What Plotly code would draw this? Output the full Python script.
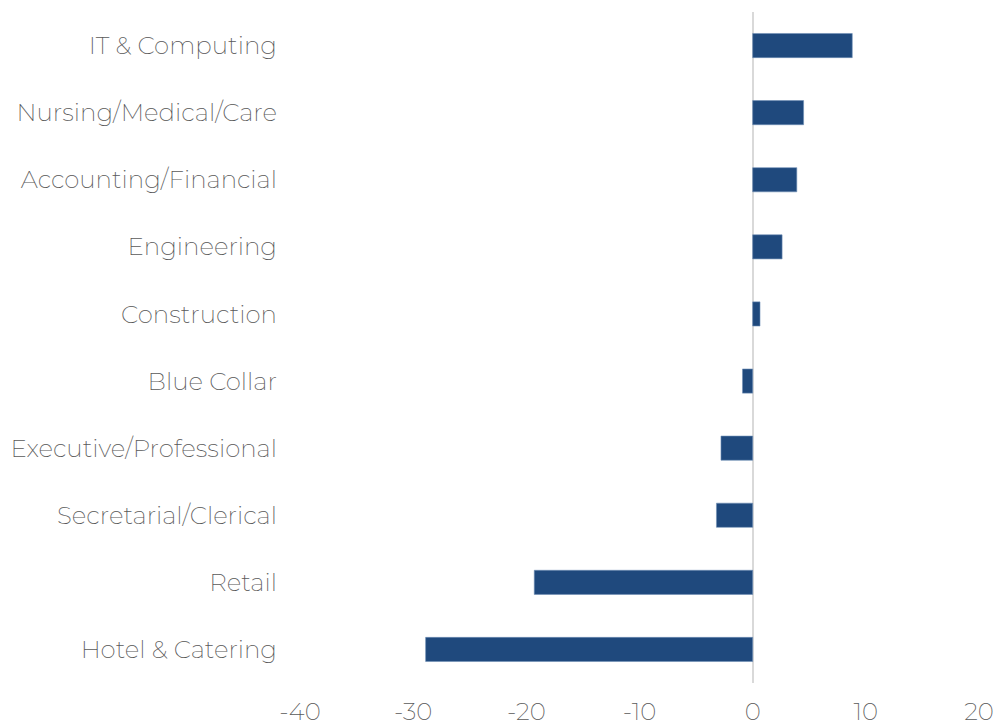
import plotly.graph_objects as go

categories = ["IT & Computing", "Nursing/Medical/Care", "Accounting/Financial", "Engineering",
              "Construction", "Blue Collar", "Executive/Professional", "Secretarial/Clerical",
              "Retail", "Hotel & Catering"]
values = [8.8, 4.5, 3.9, 2.6, 0.65, -0.9, -2.8, -3.2, -19.3, -28.9]
x_ticks = [-40, -30, -20, -10, 0, 10, 20]

fig = go.Figure(go.Bar(
    x=values, y=categories, orientation="h",
    marker=dict(color="#1F497D", line=dict(color="#6f8fb5", width=0.6)),
    width=0.36,
))

font_family = "Montserrat Light, Montserrat, Open Sans, Lato, sans-serif"
tick_font = dict(family=font_family, size=24.5, color="#595959", weight=200)
fig.update_layout(
    width=999, height=726,
    margin=dict(l=300, r=20, t=12, b=43),
    plot_bgcolor="white", paper_bgcolor="white",
    showlegend=False,
    font=dict(family=font_family, size=24.5, color="#595959", weight=200),
    xaxis=dict(range=[-40, 20], tickvals=x_ticks, ticktext=[str(t) for t in x_ticks],
               showgrid=False, zeroline=True, zerolinecolor="#d9d9d9", zerolinewidth=2,
               showline=False, ticks="", ticklabelstandoff=11, tickfont=tick_font,
               automargin=False, ticklabeloverflow="allow"),
    yaxis=dict(categoryorder="array", categoryarray=categories[::-1],
               showgrid=False, showline=False, ticks="", ticklabelstandoff=22,
               tickfont=tick_font, automargin=False),
)

fig.write_html("out.html", config={"displayModeBar": False},
               post_script="document.body.style.margin='0';")
